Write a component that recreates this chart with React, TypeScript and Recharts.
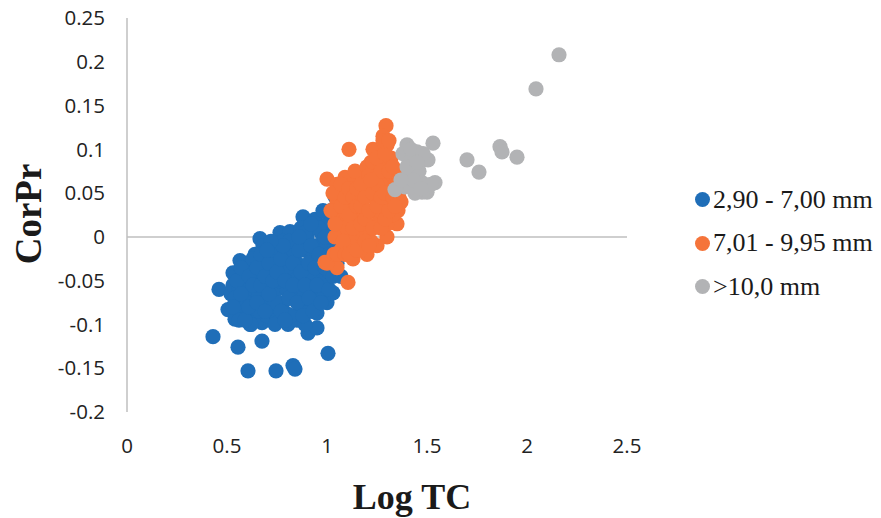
import React from "react";
import {
  ScatterChart,
  Scatter,
  XAxis,
  YAxis,
  ReferenceLine,
} from "recharts";

const xTicks = [0, 0.5, 1, 1.5, 2, 2.5];
const yTicks = [-0.2, -0.15, -0.1, -0.05, 0, 0.05, 0.1, 0.15, 0.2, 0.25];

const seriesNames = ["2,90 - 7,00 mm", "7,01 - 9,95 mm", ">10,0 mm"];
const seriesColors = ["#1F6EB8", "#F5743A", "#B2B3B5"];

const smallPts: [number, number][] = [
  [0.43, -0.114], [0.46, -0.06], [0.555, -0.126], [0.605, -0.153], [0.675, -0.119],
  [0.745, -0.153], [0.83, -0.147], [0.84, -0.151], [0.905, -0.11], [0.95, -0.104],
  [1.005, -0.133],
  [0.565, -0.027], [0.53, -0.041], [0.505, -0.083], [0.54, -0.094], [0.615, -0.1],
  [0.675, -0.098], [0.805, -0.1], [0.95, -0.087], [1.0, -0.075], [1.03, -0.064],
  [0.665, -0.002], [0.765, 0.005], [0.815, 0.006], [0.88, 0.023], [0.94, 0.02],
  [1.04, 0.046], [1.0, 0.015], [0.98, 0.03],
  [0.52, -0.065], [0.53, -0.055], [0.55, -0.075], [0.56, -0.06], [0.57, -0.085],
  [0.58, -0.045], [0.59, -0.07], [0.6, -0.055], [0.6, -0.09], [0.62, -0.035],
  [0.62, -0.065], [0.63, -0.08], [0.64, -0.05], [0.64, -0.02], [0.65, -0.095],
  [0.66, -0.065], [0.67, -0.04], [0.68, -0.075], [0.69, -0.025], [0.7, -0.055],
  [0.7, -0.09], [0.71, -0.01], [0.72, -0.07], [0.72, -0.04], [0.73, -0.085],
  [0.74, -0.03], [0.75, -0.06], [0.75, -0.095], [0.76, -0.015], [0.77, -0.045],
  [0.78, -0.075], [0.78, -0.005], [0.79, -0.03], [0.8, -0.06], [0.8, -0.088],
  [0.81, -0.02], [0.82, -0.045], [0.83, -0.07], [0.84, -0.005], [0.85, -0.03],
  [0.85, -0.095], [0.86, -0.055], [0.87, -0.08], [0.87, 0.01], [0.88, -0.015],
  [0.89, -0.04], [0.9, -0.065], [0.9, 0.0], [0.91, -0.085], [0.92, -0.025],
  [0.93, -0.05], [0.93, 0.012], [0.94, -0.07], [0.95, -0.01], [0.96, -0.04],
  [0.97, -0.06], [0.97, 0.005], [0.98, -0.025], [0.99, -0.05], [1.0, -0.01],
  [1.01, -0.04], [1.02, 0.0], [1.03, -0.025], [1.04, 0.02], [1.05, -0.01],
  [0.58, -0.03], [0.68, -0.01], [0.74, -0.075], [0.82, -0.09], [0.66, -0.085],
  [0.89, -0.1], [0.62, -0.1], [0.56, -0.095], [0.54, -0.07], [0.6, -0.075],
  [0.7, -0.035], [0.76, -0.05], [0.84, -0.06], [0.92, -0.04], [0.98, -0.07],
  [0.8, -0.035], [0.88, -0.07],
  [0.53, -0.08], [0.55, -0.05], [0.57, -0.035], [0.57, -0.065], [0.59, -0.095],
  [0.61, -0.045], [0.61, -0.08], [0.63, -0.025], [0.63, -0.055], [0.65, -0.035],
  [0.65, -0.075], [0.67, -0.055], [0.67, -0.02], [0.69, -0.045], [0.69, -0.085],
  [0.71, -0.065], [0.71, -0.03], [0.73, -0.05], [0.73, -0.015], [0.74, -0.1],
  [0.75, -0.04], [0.77, -0.085], [0.77, -0.025], [0.79, -0.05], [0.79, -0.095],
  [0.81, -0.07], [0.81, -0.005], [0.83, -0.03], [0.83, -0.055], [0.85, -0.075],
  [0.86, -0.015], [0.87, -0.04], [0.88, -0.09], [0.89, -0.055], [0.89, 0.005],
  [0.91, -0.03], [0.91, -0.07], [0.92, -0.01], [0.93, -0.085], [0.94, -0.035],
  [0.95, -0.055], [0.96, -0.02], [0.96, 0.01], [0.97, -0.075], [0.99, -0.035],
  [0.99, 0.0], [1.01, -0.06], [1.01, -0.02], [1.02, 0.03], [1.03, -0.045],
  [1.05, 0.01], [1.05, -0.03], [1.07, -0.045], [1.06, 0.03], [0.86, 0.0],
  [0.92, 0.015], [0.78, -0.01], [0.72, -0.005], [0.7, -0.015],
];

const mediumPts: [number, number][] = [
  [1.11, 0.1], [1.295, 0.127], [1.105, -0.052], [0.99, -0.029], [1.0, 0.066],
  [1.28, 0.115], [1.265, 0.1], [1.22, 0.085], [1.15, 0.065], [1.09, 0.068],
  [1.05, 0.06], [1.355, 0.03], [1.36, 0.045], [1.35, 0.015], [1.3, 0.0],
  [1.25, -0.01], [1.2, -0.02], [1.13, -0.025], [1.05, -0.035], [1.0, -0.03],
  [1.035, -0.02],
  [1.05, 0.04], [1.06, 0.02], [1.06, 0.0], [1.07, -0.015], [1.08, 0.05],
  [1.09, 0.03], [1.1, 0.01], [1.1, -0.01], [1.12, 0.04], [1.13, 0.06],
  [1.14, 0.02], [1.15, 0.0], [1.16, 0.045], [1.17, -0.015], [1.18, 0.03],
  [1.19, 0.065], [1.2, 0.01], [1.21, 0.05], [1.22, -0.005], [1.23, 0.03],
  [1.24, 0.07], [1.25, 0.015], [1.26, 0.05], [1.27, 0.085], [1.28, 0.03],
  [1.29, 0.065], [1.3, 0.015], [1.31, 0.045], [1.32, 0.09], [1.33, 0.025],
  [1.34, 0.06], [1.35, 0.075], [1.12, -0.005], [1.18, 0.0], [1.24, 0.045],
  [1.3, 0.105], [1.08, 0.01], [1.14, 0.075], [1.2, 0.08], [1.26, 0.03],
  [1.36, 0.055], [1.02, 0.03], [1.04, 0.0], [1.27, 0.06], [1.23, 0.1],
  [1.03, 0.05], [1.04, 0.015], [1.05, -0.02], [1.07, 0.06], [1.07, 0.035],
  [1.08, -0.005], [1.09, 0.045], [1.09, -0.02], [1.11, 0.055], [1.11, 0.025],
  [1.11, -0.02], [1.13, 0.045], [1.13, 0.01], [1.15, 0.035], [1.15, 0.055],
  [1.15, -0.015], [1.17, 0.06], [1.17, 0.015], [1.17, 0.035], [1.19, 0.045],
  [1.19, -0.005], [1.19, 0.02], [1.21, 0.07], [1.21, 0.03], [1.21, -0.01],
  [1.23, 0.05], [1.23, 0.085], [1.23, 0.01], [1.25, 0.035], [1.25, 0.06],
  [1.25, 0.09], [1.27, 0.045], [1.27, 0.01], [1.27, 0.075], [1.29, 0.05],
  [1.29, 0.095], [1.29, 0.02], [1.31, 0.03], [1.31, 0.075], [1.33, 0.045],
  [1.33, 0.08], [1.35, 0.06], [1.37, 0.04], [1.28, 0.11], [1.31, 0.11],
  [1.22, 0.065], [1.34, 0.035],
];

const largePts: [number, number][] = [
  [2.16, 0.208], [2.045, 0.169], [1.865, 0.103], [1.875, 0.097], [1.95, 0.091],
  [1.7, 0.088], [1.76, 0.074], [1.53, 0.107], [1.54, 0.062], [1.5, 0.051],
  [1.475, 0.051], [1.44, 0.05], [1.4, 0.105], [1.45, 0.097], [1.465, 0.086],
  [1.505, 0.088], [1.43, 0.077], [1.405, 0.069], [1.39, 0.057], [1.34, 0.054],
  [1.42, 0.057], [1.475, 0.062], [1.38, 0.095], [1.44, 0.09], [1.41, 0.085],
  [1.42, 0.1], [1.46, 0.075], [1.48, 0.095], [1.43, 0.065], [1.37, 0.065],
  [1.52, 0.06], [1.47, 0.055], [1.4, 0.08], [1.45, 0.085],
];

const toData = (pts: [number, number][]) => pts.map(([x, y]) => ({ x, y }));
const seriesData = [toData(smallPts), toData(mediumPts), toData(largePts)];

const dot = (color: string) => (props: any) =>
  <circle cx={props.cx} cy={props.cy} r={7.6} fill={color} />;

const fmtY = (v: number) => String(parseFloat(v.toFixed(2)));

const serif = "'Liberation Serif', 'Times New Roman', serif";

export default function App() {
  const tickStyle = { fontFamily: "'Open Sans', sans-serif", fontSize: 20.5, fill: "#222" };
  return (
    <div style={{ position: "absolute", left: 0, top: 0, width: 881, height: 518, background: "#fff" }}>
      <ScatterChart
        width={881}
        height={518}
        margin={{ top: 18, right: 254, bottom: 76, left: 0 }}
      >
        <XAxis
          type="number"
          dataKey="x"
          domain={[0, 2.5]}
          ticks={xTicks}
          axisLine={false}
          tickLine={false}
          tickMargin={20}
          height={30}
          tick={tickStyle}
          interval={0}
        />
        <YAxis
          type="number"
          dataKey="y"
          domain={[-0.2, 0.25]}
          ticks={yTicks}
          width={127}
          axisLine={{ stroke: "#BFBFBF", strokeWidth: 1.5 }}
          tickLine={false}
          tickMargin={16}
          tick={tickStyle}
          tickFormatter={fmtY}
          interval={0}
        />
        <ReferenceLine y={0} stroke="#BFBFBF" strokeWidth={1.5} />
        {seriesData.map((d, i) => (
          <Scatter
            key={seriesNames[i]}
            name={seriesNames[i]}
            data={d}
            fill={seriesColors[i]}
            shape={dot(seriesColors[i])}
            isAnimationActive={false}
          />
        ))}
        <text
          x={28}
          y={214}
          transform="rotate(-90 28 214)"
          textAnchor="middle"
          dominantBaseline="central"
          style={{ fontFamily: serif, fontSize: 37, fontWeight: "bold", fill: "#1a1a1a" }}
        >
          CorPr
        </text>
        <text
          x={412}
          y={509}
          textAnchor="middle"
          style={{ fontFamily: serif, fontSize: 36, fontWeight: "bold", fill: "#1a1a1a" }}
        >
          Log TC
        </text>
      </ScatterChart>
      <div
        style={{
          position: "absolute",
          left: 695,
          top: 178,
          fontFamily: serif,
          fontSize: 26,
          color: "#1a1a1a",
        }}
      >
        {seriesNames.map((n, i) => (
          <div key={n} style={{ display: "flex", alignItems: "center", height: 43.5, whiteSpace: "nowrap" }}>
            <span
              style={{
                display: "inline-block",
                width: 15,
                height: 15,
                borderRadius: "50%",
                background: seriesColors[i],
                marginRight: 3,
              }}
            />
            <span>{n}</span>
          </div>
        ))}
      </div>
    </div>
  );
}
